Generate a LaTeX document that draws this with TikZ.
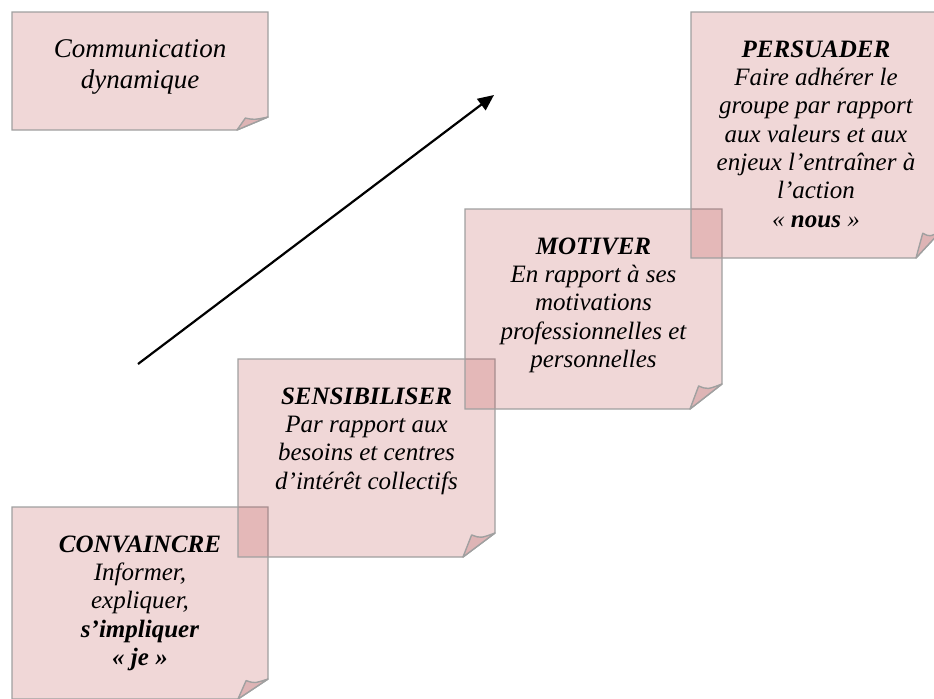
\documentclass[tikz,border=0pt]{standalone}
\usepackage{fontspec}
\setmainfont{Liberation Serif}
\usetikzlibrary{arrows.meta}
\definecolor{notepink}{RGB}{187,73,75}
\definecolor{noteedge}{RGB}{160,160,160}
\definecolor{flappink}{RGB}{222,180,181}
\tikzset{
	notebox/.style={draw=noteedge, line width=0.7pt, fill=notepink, fill opacity=0.22},
	noteflap/.style={draw=noteedge, line width=0.7pt, fill=flappink, line join=round},
	notetext/.style={align=center, inner sep=0pt, anchor=north, font=\fontsize{12.5}{14.15}\selectfont\itshape},
	trend/.style={line width=1.1pt, -{Triangle[length=8pt, width=7pt]}}
}
% left, top, right, bottom, fold width, fold height
\newcommand{\postit}[6]{
	\filldraw[notebox] (#1,#2) -- (#3,#2) -- (#3,#4-#6) -- (#3-#5,#4) -- (#1,#4) -- cycle;
	\filldraw[noteflap] (#3-#5,#4) -- (#3-0.73*#5,#4-0.92*#6)
		.. controls (#3-0.45*#5,#4-0.78*#6) .. (#3,#4-#6) -- cycle;
}
\begin{document}
\begin{tikzpicture}[x=0.5pt, y=-0.5pt]
	\useasboundingbox (0,0) rectangle (934,698);
	\clip (0,0) rectangle (934,698);
	\postit{12}{12}{268}{130}{31}{13}
	\node[notetext, font=\fontsize{13.5}{15.35}\selectfont\itshape] (comm) at (140,35.5)
		{\strut Communication\\dynamique};
	\postit{12}{507}{268}{699}{30}{20}
	\node[notetext] (conv) at (140,532)
		{\strut\textbf{CONVAINCRE}\\Informer,\\expliquer,\\\textbf{s’impliquer}\\\textbf{« je »}};
	\postit{238}{359}{495}{557}{32}{24}
	\node[notetext] (sens) at (366.5,384)
		{\strut\textbf{SENSIBILISER}\\Par rapport aux\\besoins et centres\\d’intérêt collectifs};
	\postit{465}{209}{722}{409}{32}{25}
	\node[notetext] (motiv) at (593.5,234)
		{\strut\textbf{MOTIVER}\\En rapport à ses\\motivations\\professionnelles et\\personnelles};
	\postit{691}{12}{941}{258}{25}{27}
	\node[notetext] (pers) at (816,37)
		{\strut\textbf{PERSUADER}\\Faire adhérer le\\groupe par rapport\\aux valeurs et aux\\enjeux l’entraîner à\\l’action\\« \textbf{nous} »};
	\coordinate (start) at (138,364);
	\coordinate (end) at (494,95);
	\draw[trend] (start) -- (end);
\end{tikzpicture}
\end{document}
